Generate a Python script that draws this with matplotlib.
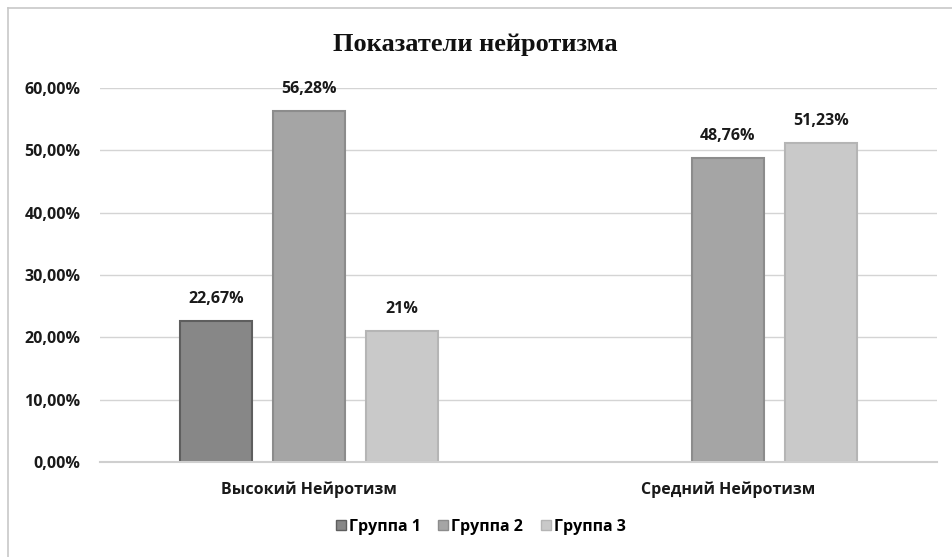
import matplotlib
matplotlib.use("Agg")
import matplotlib.pyplot as plt
import numpy as np
from matplotlib.lines import Line2D
from matplotlib.ticker import FuncFormatter

plt.rcParams['font.family'] = ['Open Sans', 'DejaVu Sans']

categories = ["Высокий Нейротизм", "Средний Нейротизм"]
series_names = ["Группа 1", "Группа 2", "Группа 3"]
group1 = [22.67, np.nan]
group2 = [56.28, 48.76]
group3 = [21.0, 51.23]
group1_labels = ["22,67%", ""]
group2_labels = ["56,28%", "48,76%"]
group3_labels = ["21%", "51,23%"]
yticks = [0, 10, 20, 30, 40, 50, 60]
title = "Показатели нейротизма"

fills = ["#878787", "#a5a5a5", "#c9c9c9"]
edges = ["#5e5e5e", "#8c8c8c", "#b5b5b5"]

W, H = 952, 557
fig = plt.figure(figsize=(W / 100, H / 100), dpi=100)
ax = fig.add_axes([100 / W, 95 / H, 837 / W, 374 / H])

fs = 11.5
x = np.arange(len(categories))
bw = 0.172
step = 0.222
all_vals = [group1, group2, group3]
all_labels = [group1_labels, group2_labels, group3_labels]
for i, (vals, labs) in enumerate(zip(all_vals, all_labels)):
    pos = x + (i - 1) * step
    v = np.array(vals, dtype=float)
    ax.bar(pos, v, width=bw, color=fills[i], edgecolor=edges[i],
           linewidth=1.5, zorder=3)
    for p, val, lab in zip(pos, v, labs):
        if not np.isnan(val) and lab:
            ax.annotate(lab, (p, val), xytext=(0, 10), textcoords="offset points",
                        ha="center", va="bottom", fontsize=fs, fontweight="bold",
                        color="#1a1a1a")

ax.set_xlim(-0.5, 1.5)
ax.set_ylim(0, 60)
ax.set_yticks(yticks)
ax.yaxis.set_major_formatter(FuncFormatter(lambda v, p: f"{v:.2f}%".replace(".", ",")))
ax.set_xticks(x)
ax.set_xticklabels(categories)
for lab in ax.get_xticklabels() + ax.get_yticklabels():
    lab.set_fontweight("bold")
    lab.set_fontsize(fs)
    lab.set_color("#1a1a1a")
ax.tick_params(axis="y", length=0, pad=14)
ax.tick_params(axis="x", length=0, pad=14)
ax.grid(axis="y", color="#d4d4d4", linewidth=1.0, zorder=0)
ax.set_axisbelow(True)
for s in ["left", "right", "top"]:
    ax.spines[s].set_visible(False)
ax.spines["bottom"].set_color("#cfcfcf")
ax.spines["bottom"].set_linewidth(1.5)
ax.spines["bottom"].set_zorder(4)

fig.text(475 / W, 1 - 45 / H, title, ha="center", va="center",
         fontsize=19, fontweight="bold", family=["Liberation Serif", "DejaVu Serif"],
         color="#111111")

handles = [Line2D([0], [0], marker="s", linestyle="none", markersize=7,
                  markerfacecolor=fills[i], markeredgecolor=edges[i])
           for i in range(3)]
fig.legend(handles, series_names, loc="center", bbox_to_anchor=(480 / W, 30 / H),
           ncol=3, frameon=False, handletextpad=0.1, columnspacing=1.0,
           prop={"weight": "bold", "size": fs}, handlelength=0.8)

# chart border (left/top visible)
fig.add_artist(Line2D([8 / W, 8 / W], [0, 1 - 8 / H], transform=fig.transFigure,
                      color="#c8c8c8", linewidth=1.2))
fig.add_artist(Line2D([8 / W, 1], [1 - 8 / H, 1 - 8 / H], transform=fig.transFigure,
                      color="#c8c8c8", linewidth=1.2))

fig.savefig("out.png", dpi=100, facecolor="white")
